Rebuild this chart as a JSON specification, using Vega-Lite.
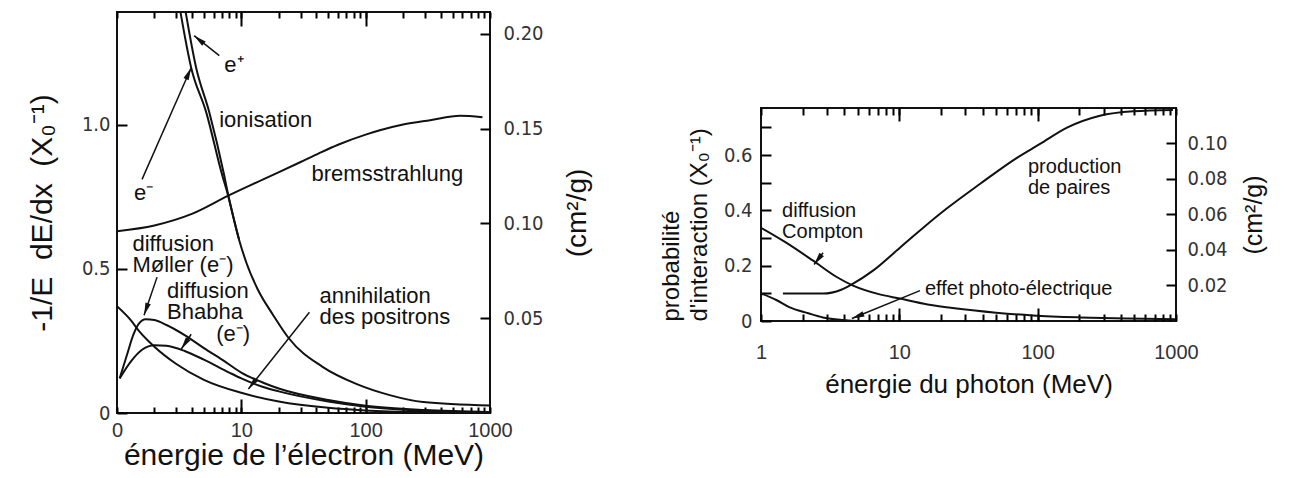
{
  "$schema": "https://vega.github.io/schema/vega-lite/v6.json",
  "background": "white",
  "padding": {"left": 26, "top": 10, "right": 5, "bottom": 0},
  "config": {"view": {"stroke": "#111", "strokeWidth": 2}, "axis": {"minExtent": 0, "ticks": true, "tickOpacity": 1, "zindex": 1}},
  "datasets": {
    "lc": [
      {"s": "brems", "E": 1, "v": 0.63}, {"s": "brems", "E": 2, "v": 0.65}, {"s": "brems", "E": 4, "v": 0.69}, {"s": "brems", "E": 8, "v": 0.755}, {"s": "brems", "E": 15, "v": 0.81}, {"s": "brems", "E": 30, "v": 0.87}, {"s": "brems", "E": 42, "v": 0.9}, {"s": "brems", "E": 60, "v": 0.93}, {"s": "brems", "E": 100, "v": 0.965}, {"s": "brems", "E": 130, "v": 0.98}, {"s": "brems", "E": 200, "v": 1.0}, {"s": "brems", "E": 330, "v": 1.015}, {"s": "brems", "E": 575, "v": 1.03}, {"s": "brems", "E": 870, "v": 1.025},
      {"s": "ion_em", "E": 3.15, "v": 1.42}, {"s": "ion_em", "E": 3.95, "v": 1.197}, {"s": "ion_em", "E": 5.22, "v": 1.042}, {"s": "ion_em", "E": 7.02, "v": 0.824}, {"s": "ion_em", "E": 7.7, "v": 0.765}, {"s": "ion_em", "E": 9.6, "v": 0.6}, {"s": "ion_em", "E": 11, "v": 0.52}, {"s": "ion_em", "E": 13.5, "v": 0.43}, {"s": "ion_em", "E": 18, "v": 0.34}, {"s": "ion_em", "E": 24, "v": 0.26}, {"s": "ion_em", "E": 45, "v": 0.16}, {"s": "ion_em", "E": 85, "v": 0.1}, {"s": "ion_em", "E": 156, "v": 0.062}, {"s": "ion_em", "E": 290, "v": 0.038}, {"s": "ion_em", "E": 1000, "v": 0.026},
      {"s": "ion_ep", "E": 3.47, "v": 1.42}, {"s": "ion_ep", "E": 4.33, "v": 1.197}, {"s": "ion_ep", "E": 5.53, "v": 1.042}, {"s": "ion_ep", "E": 7.28, "v": 0.824}, {"s": "ion_ep", "E": 7.85, "v": 0.755}, {"s": "ion_ep", "E": 9.6, "v": 0.6},
      {"s": "moller", "E": 1.05, "v": 0.12}, {"s": "moller", "E": 1.2, "v": 0.2}, {"s": "moller", "E": 1.35, "v": 0.27}, {"s": "moller", "E": 1.5, "v": 0.31}, {"s": "moller", "E": 1.7, "v": 0.325}, {"s": "moller", "E": 2.0, "v": 0.322}, {"s": "moller", "E": 2.5, "v": 0.305}, {"s": "moller", "E": 3.5, "v": 0.27}, {"s": "moller", "E": 5, "v": 0.225}, {"s": "moller", "E": 7, "v": 0.185}, {"s": "moller", "E": 10, "v": 0.14}, {"s": "moller", "E": 15, "v": 0.105}, {"s": "moller", "E": 20, "v": 0.085}, {"s": "moller", "E": 50, "v": 0.045}, {"s": "moller", "E": 100, "v": 0.025}, {"s": "moller", "E": 300, "v": 0.01}, {"s": "moller", "E": 1000, "v": 0.003},
      {"s": "bhabha", "E": 1.05, "v": 0.12}, {"s": "bhabha", "E": 1.3, "v": 0.18}, {"s": "bhabha", "E": 1.6, "v": 0.22}, {"s": "bhabha", "E": 2.0, "v": 0.235}, {"s": "bhabha", "E": 2.5, "v": 0.233}, {"s": "bhabha", "E": 3.5, "v": 0.215}, {"s": "bhabha", "E": 5, "v": 0.185}, {"s": "bhabha", "E": 8, "v": 0.14}, {"s": "bhabha", "E": 10, "v": 0.12}, {"s": "bhabha", "E": 15, "v": 0.09}, {"s": "bhabha", "E": 20, "v": 0.075}, {"s": "bhabha", "E": 50, "v": 0.04}, {"s": "bhabha", "E": 100, "v": 0.022}, {"s": "bhabha", "E": 300, "v": 0.008}, {"s": "bhabha", "E": 1000, "v": 0.002},
      {"s": "annih", "E": 1, "v": 0.37}, {"s": "annih", "E": 1.3, "v": 0.32}, {"s": "annih", "E": 1.5, "v": 0.285}, {"s": "annih", "E": 2, "v": 0.23}, {"s": "annih", "E": 3, "v": 0.17}, {"s": "annih", "E": 5, "v": 0.115}, {"s": "annih", "E": 10, "v": 0.07}, {"s": "annih", "E": 20, "v": 0.04}, {"s": "annih", "E": 50, "v": 0.018}, {"s": "annih", "E": 100, "v": 0.009}, {"s": "annih", "E": 300, "v": 0.003}, {"s": "annih", "E": 1000, "v": 0.001}
    ],
    "lt": [
      {"t": "e⁺", "E": 7.29, "v": 1.208},
      {"t": "e⁻", "E": 1.37, "v": 0.761},
      {"t": "ionisation", "E": 6.64, "v": 1.014},
      {"t": "bremsstrahlung", "E": 36.7, "v": 0.827},
      {"t": "diffusion\nMøller (e⁻)", "E": 1.33, "v": 0.585},
      {"t": "diffusion\nBhabha", "E": 2.53, "v": 0.422},
      {"t": "(e⁻)", "E": 6.28, "v": 0.275},
      {"t": "annihilation\ndes positrons", "E": 42.5, "v": 0.405}
    ],
    "la": [
      {"id": "ep", "E": 6.65, "v": 1.239, "E2": 4.17, "v2": 1.308},
      {"id": "em", "E": 1.59, "v": 0.81, "E2": 3.95, "v2": 1.197},
      {"id": "mo", "E": 2.1, "v": 0.471, "E2": 1.65, "v2": 0.339},
      {"id": "bh", "E": 3.95, "v": 0.273, "E2": 3.28, "v2": 0.221},
      {"id": "an", "E": 35.3, "v": 0.349, "E2": 11.4, "v2": 0.083}
    ],
    "lax": [{"k": 0.05}, {"k": 0.2}],
    "rc": [
      {"s": "compton", "E": 1.0, "p": 0.337}, {"s": "compton", "E": 1.5, "p": 0.285}, {"s": "compton", "E": 2.38, "p": 0.218}, {"s": "compton", "E": 3.5, "p": 0.16}, {"s": "compton", "E": 4.63, "p": 0.128}, {"s": "compton", "E": 7, "p": 0.098}, {"s": "compton", "E": 10.1, "p": 0.081}, {"s": "compton", "E": 16, "p": 0.06}, {"s": "compton", "E": 26, "p": 0.045}, {"s": "compton", "E": 50, "p": 0.03}, {"s": "compton", "E": 92, "p": 0.02}, {"s": "compton", "E": 200, "p": 0.013}, {"s": "compton", "E": 445, "p": 0.009}, {"s": "compton", "E": 1000, "p": 0.006},
      {"s": "paires", "E": 1.44, "p": 0.099}, {"s": "paires", "E": 2.81, "p": 0.099}, {"s": "paires", "E": 3.8, "p": 0.113}, {"s": "paires", "E": 4.63, "p": 0.135}, {"s": "paires", "E": 6.45, "p": 0.182}, {"s": "paires", "E": 10.1, "p": 0.265}, {"s": "paires", "E": 19.7, "p": 0.388}, {"s": "paires", "E": 38.4, "p": 0.496}, {"s": "paires", "E": 70.8, "p": 0.59}, {"s": "paires", "E": 104, "p": 0.64}, {"s": "paires", "E": 163, "p": 0.699}, {"s": "paires", "E": 282, "p": 0.742}, {"s": "paires", "E": 492, "p": 0.758}, {"s": "paires", "E": 950, "p": 0.763},
      {"s": "photo", "E": 1.0, "p": 0.1}, {"s": "photo", "E": 1.3, "p": 0.075}, {"s": "photo", "E": 1.6, "p": 0.05}, {"s": "photo", "E": 2.2, "p": 0.028}, {"s": "photo", "E": 2.8, "p": 0.013}, {"s": "photo", "E": 3.6, "p": 0.005}, {"s": "photo", "E": 4.5, "p": 0.001}, {"s": "photo", "E": 6, "p": 0.0}
    ],
    "rt": [
      {"t": "diffusion\nCompton", "E": 1.42, "p": 0.399},
      {"t": "production\nde paires", "E": 85.1, "p": 0.558},
      {"t": "effet photo-électrique", "E": 15.3, "p": 0.114}
    ],
    "ra": [
      {"id": "co", "E": 2.81, "p": 0.247, "E2": 2.42, "p2": 0.204},
      {"id": "ph", "E": 14.1, "p": 0.11, "E2": 4.54, "p2": 0.009}
    ],
    "rax": [{"k": 0.02}, {"k": 0.1}]
  },
  "hconcat": [
    {
      "width": 373,
      "height": 401,
      "resolve": {"scale": {"y": "independent"}, "axis": {"x": "independent", "y": "independent"}},
      "layer": [
        {
          "data": {"name": "lc"},
          "mark": {"type": "line", "color": "#111", "strokeWidth": 2, "interpolate": "monotone", "clip": true},
          "encoding": {
            "x": {"field": "E", "type": "quantitative", "scale": {"type": "log", "domain": [1, 1000]},
              "axis": {"orient": "bottom", "values": [1,2,3,4,5,6,7,8,9,10,20,30,40,50,60,70,80,90,100,200,300,400,500,600,700,800,900,1000],
                "ticks": true, "tickSize": 6, "offset": -6, "tickColor": "#000", "tickWidth": 2, "domain": false, "grid": false, "labelFlush": false, "labelOverlap": false,
                "labelExpr": "datum.value == 1 ? '0' : datum.value == 10 ? '10' : datum.value == 100 ? '100' : datum.value == 1000 ? '1000' : ''",
                "labelFont": "Liberation Sans", "labelFontSize": 20, "labelColor": "#333", "labelPadding": 7,
                "title": "énergie de l’électron (MeV)", "titleFont": "Liberation Sans", "titleFontSize": 30, "titleFontWeight": "normal", "titleColor": "#111", "titlePadding": 0}},
            "y": {"field": "v", "type": "quantitative", "scale": {"domain": [0, 1.39], "nice": false},
              "axis": {"orient": "left", "values": [0, 0.5, 1.0], "ticks": true, "tickSize": 10, "offset": -10, "tickColor": "#000", "tickWidth": 2, "domain": false, "grid": false,
                "labelExpr": "datum.value == 0 ? '0' : format(datum.value, '.1f')",
                "labelFont": "DejaVu Sans Condensed, Liberation Sans", "labelFontSize": 20, "labelColor": "#333", "labelPadding": 7,
                "title": "-1/E\u00a0\u00a0dE/dx\u00a0\u00a0(X₀⁻¹)", "titleFont": "Liberation Sans", "titleFontSize": 30, "titleFontWeight": "normal", "titleColor": "#111", "titlePadding": 24}},
            "detail": {"field": "s"}
          }
        },
        {
          "data": {"name": "lc"},
          "mark": {"type": "point", "opacity": 0, "clip": true},
          "encoding": {
            "x": {"field": "E", "type": "quantitative", "scale": {"type": "log", "domain": [1, 1000]},
              "axis": {"orient": "bottom", "values": [10, 100], "ticks": true, "tickSize": 14, "offset": -14, "tickColor": "#000", "tickWidth": 2, "domain": false, "grid": false, "labels": false, "title": null}},
            "y": {"field": "v", "type": "quantitative", "scale": {"domain": [0, 1.39], "nice": false}, "axis": null}
          }
        },
        {
          "data": {"name": "lc"},
          "mark": {"type": "point", "opacity": 0, "clip": true},
          "encoding": {
            "x": {"field": "E", "type": "quantitative", "scale": {"type": "log", "domain": [1, 1000]},
              "axis": {"orient": "top", "values": [1,2,3,4,5,6,7,8,9,10,20,30,40,50,60,70,80,90,100,200,300,400,500,600,700,800,900,1000],
                "ticks": true, "tickSize": 6, "offset": -6, "tickColor": "#000", "tickWidth": 2, "domain": false, "grid": false, "labels": false, "title": null}},
            "y": {"field": "v", "type": "quantitative", "scale": {"domain": [0, 1.39], "nice": false}, "axis": null}
          }
        },
        {
          "data": {"name": "lc"},
          "mark": {"type": "point", "opacity": 0, "clip": true},
          "encoding": {
            "x": {"field": "E", "type": "quantitative", "scale": {"type": "log", "domain": [1, 1000]},
              "axis": {"orient": "top", "values": [10, 100], "ticks": true, "tickSize": 14, "offset": -14, "tickColor": "#000", "tickWidth": 2, "domain": false, "grid": false, "labels": false, "title": null}},
            "y": {"field": "v", "type": "quantitative", "scale": {"domain": [0, 1.39], "nice": false}, "axis": null}
          }
        },
        {
          "data": {"name": "lax"},
          "mark": {"type": "point", "opacity": 0, "clip": true},
          "encoding": {
            "y": {"field": "k", "type": "quantitative", "scale": {"domain": [0, 0.2116], "nice": false},
              "axis": {"orient": "right", "values": [0.05, 0.1, 0.15, 0.2], "format": ".2f", "ticks": true, "tickSize": 10, "offset": -10, "tickColor": "#000", "tickWidth": 2, "domain": false, "grid": false,
                "labelFont": "DejaVu Sans Condensed, Liberation Sans", "labelFontSize": 20, "labelColor": "#333", "labelPadding": 13,
                "title": "(cm²/g)", "titleAngle": 270, "titleBaseline": "top", "titleFont": "Liberation Sans", "titleFontSize": 28, "titleFontWeight": "normal", "titleColor": "#111", "titlePadding": 20}}
          }
        },
        {
          "data": {"name": "lt"},
          "mark": {"type": "text", "align": "left", "baseline": "middle", "lineBreak": "\n", "lineHeight": 21, "font": "Liberation Sans", "fontSize": 22, "color": "#111"},
          "encoding": {
            "x": {"field": "E", "type": "quantitative", "scale": {"type": "log", "domain": [1, 1000]}, "axis": null},
            "y": {"field": "v", "type": "quantitative", "scale": {"domain": [0, 1.39], "nice": false}, "axis": null},
            "text": {"field": "t"}
          }
        },
        {
          "data": {"name": "la"},
          "mark": {"type": "rule", "color": "#111", "strokeWidth": 1.5},
          "encoding": {
            "x": {"field": "E", "type": "quantitative", "scale": {"type": "log", "domain": [1, 1000]}, "axis": null},
            "y": {"field": "v", "type": "quantitative", "scale": {"domain": [0, 1.39], "nice": false}, "axis": null},
            "x2": {"field": "E2"},
            "y2": {"field": "v2"}
          }
        },
        {
          "data": {"name": "la"}, "transform": [{"filter": "datum.id == 'ep'"}],
          "mark": {"type": "point", "shape": "M0,0L-0.4,1.8L0.4,1.8Z", "filled": true, "color": "#111", "opacity": 1, "size": 196, "angle": -51},
          "encoding": {
            "x": {"field": "E2", "type": "quantitative", "scale": {"type": "log", "domain": [1, 1000]}, "axis": null},
            "y": {"field": "v2", "type": "quantitative", "scale": {"domain": [0, 1.39], "nice": false}, "axis": null}
          }
        },
        {
          "data": {"name": "la"}, "transform": [{"filter": "datum.id == 'em'"}],
          "mark": {"type": "point", "shape": "M0,0L-0.4,1.8L0.4,1.8Z", "filled": true, "color": "#111", "opacity": 1, "size": 196, "angle": 24},
          "encoding": {
            "x": {"field": "E2", "type": "quantitative", "scale": {"type": "log", "domain": [1, 1000]}, "axis": null},
            "y": {"field": "v2", "type": "quantitative", "scale": {"domain": [0, 1.39], "nice": false}, "axis": null}
          }
        },
        {
          "data": {"name": "la"}, "transform": [{"filter": "datum.id == 'mo'"}],
          "mark": {"type": "point", "shape": "M0,0L-0.4,1.8L0.4,1.8Z", "filled": true, "color": "#111", "opacity": 1, "size": 196, "angle": -161},
          "encoding": {
            "x": {"field": "E2", "type": "quantitative", "scale": {"type": "log", "domain": [1, 1000]}, "axis": null},
            "y": {"field": "v2", "type": "quantitative", "scale": {"domain": [0, 1.39], "nice": false}, "axis": null}
          }
        },
        {
          "data": {"name": "la"}, "transform": [{"filter": "datum.id == 'bh'"}],
          "mark": {"type": "point", "shape": "M0,0L-0.4,1.8L0.4,1.8Z", "filled": true, "color": "#111", "opacity": 1, "size": 196, "angle": -146},
          "encoding": {
            "x": {"field": "E2", "type": "quantitative", "scale": {"type": "log", "domain": [1, 1000]}, "axis": null},
            "y": {"field": "v2", "type": "quantitative", "scale": {"domain": [0, 1.39], "nice": false}, "axis": null}
          }
        },
        {
          "data": {"name": "la"}, "transform": [{"filter": "datum.id == 'an'"}],
          "mark": {"type": "point", "shape": "M0,0L-0.4,1.8L0.4,1.8Z", "filled": true, "color": "#111", "opacity": 1, "size": 196, "angle": -142},
          "encoding": {
            "x": {"field": "E2", "type": "quantitative", "scale": {"type": "log", "domain": [1, 1000]}, "axis": null},
            "y": {"field": "v2", "type": "quantitative", "scale": {"domain": [0, 1.39], "nice": false}, "axis": null}
          }
        }
      ]
    },
    {
      "spacing": 20,
      "vconcat": [
        {"width": 10, "height": 74, "data": {"values": []}, "mark": "point", "view": {"stroke": null}},
        {
          "width": 415,
          "height": 213,
          "resolve": {"scale": {"y": "independent"}, "axis": {"x": "independent", "y": "independent"}},
          "layer": [
            {
              "data": {"name": "rc"},
              "mark": {"type": "line", "color": "#111", "strokeWidth": 2, "interpolate": "monotone", "clip": true},
              "encoding": {
                "x": {"field": "E", "type": "quantitative", "scale": {"type": "log", "domain": [1, 1000]},
                  "axis": {"orient": "bottom", "values": [1,2,3,4,5,6,7,8,9,10,20,30,40,50,60,70,80,90,100,200,300,400,500,600,700,800,900,1000],
                    "ticks": true, "tickSize": 7, "offset": -7, "tickColor": "#000", "tickWidth": 2, "domain": false, "grid": false, "labelFlush": false, "labelOverlap": false,
                    "labelExpr": "datum.value == 1 ? '1' : datum.value == 10 ? '10' : datum.value == 100 ? '100' : datum.value == 1000 ? '1000' : ''",
                    "labelFont": "Liberation Sans", "labelFontSize": 20, "labelColor": "#333", "labelPadding": 21,
                    "title": "énergie du photon (MeV)", "titleFont": "Liberation Sans", "titleFontSize": 26, "titleFontWeight": "normal", "titleColor": "#111", "titlePadding": 9}},
                "y": {"field": "p", "type": "quantitative", "scale": {"domain": [0, 0.77], "nice": false},
                  "axis": {"orient": "left", "values": [0, 0.1, 0.2, 0.3, 0.4, 0.5, 0.6, 0.7], "ticks": true, "tickSize": 10, "offset": -10, "tickColor": "#000", "tickWidth": 2, "domain": false, "grid": false,
                    "labelExpr": "datum.value == 0 ? '0' : (datum.value == 0.2 || datum.value == 0.4 || datum.value == 0.6) ? format(datum.value, '.1f') : ''",
                    "labelFont": "DejaVu Sans Condensed, Liberation Sans", "labelFontSize": 20, "labelColor": "#333", "labelPadding": 9,
                    "title": ["probabilité", "d'interaction (X₀⁻¹)"], "titleAnchor": "start", "titleFont": "Liberation Sans", "titleFontSize": 24, "titleFontWeight": "normal", "titleColor": "#111", "titlePadding": 12, "titleLineHeight": 28}},
                "detail": {"field": "s"}
              }
            },
            {
              "data": {"name": "rc"},
              "mark": {"type": "point", "opacity": 0, "clip": true},
              "encoding": {
                "x": {"field": "E", "type": "quantitative", "scale": {"type": "log", "domain": [1, 1000]},
                  "axis": {"orient": "bottom", "values": [10, 100], "ticks": true, "tickSize": 13, "offset": -13, "tickColor": "#000", "tickWidth": 2, "domain": false, "grid": false, "labels": false, "title": null}},
                "y": {"field": "p", "type": "quantitative", "scale": {"domain": [0, 0.77], "nice": false}, "axis": null}
              }
            },
            {
              "data": {"name": "rc"},
              "mark": {"type": "point", "opacity": 0, "clip": true},
              "encoding": {
                "x": {"field": "E", "type": "quantitative", "scale": {"type": "log", "domain": [1, 1000]},
                  "axis": {"orient": "top", "values": [1,2,3,4,5,6,7,8,9,10,20,30,40,50,60,70,80,90,100,200,300,400,500,600,700,800,900,1000],
                    "ticks": true, "tickSize": 7, "offset": -7, "tickColor": "#000", "tickWidth": 2, "domain": false, "grid": false, "labels": false, "title": null}},
                "y": {"field": "p", "type": "quantitative", "scale": {"domain": [0, 0.77], "nice": false}, "axis": null}
              }
            },
            {
              "data": {"name": "rc"},
              "mark": {"type": "point", "opacity": 0, "clip": true},
              "encoding": {
                "x": {"field": "E", "type": "quantitative", "scale": {"type": "log", "domain": [1, 1000]},
                  "axis": {"orient": "top", "values": [10, 100], "ticks": true, "tickSize": 13, "offset": -13, "tickColor": "#000", "tickWidth": 2, "domain": false, "grid": false, "labels": false, "title": null}},
                "y": {"field": "p", "type": "quantitative", "scale": {"domain": [0, 0.77], "nice": false}, "axis": null}
              }
            },
            {
              "data": {"name": "rax"},
              "mark": {"type": "point", "opacity": 0, "clip": true},
              "encoding": {
                "y": {"field": "k", "type": "quantitative", "scale": {"domain": [0, 0.1197], "nice": false},
                  "axis": {"orient": "right", "values": [0.02, 0.04, 0.06, 0.08, 0.1], "format": ".2f", "ticks": true, "tickSize": 10, "offset": -10, "tickColor": "#000", "tickWidth": 2, "domain": false, "grid": false,
                    "labelFont": "DejaVu Sans Condensed, Liberation Sans", "labelFontSize": 20, "labelColor": "#333", "labelPadding": 11,
                    "title": "(cm²/g)", "titleAngle": 270, "titleBaseline": "top", "titleFont": "Liberation Sans", "titleFontSize": 25, "titleFontWeight": "normal", "titleColor": "#111", "titlePadding": 14}}
              }
            },
            {
              "data": {"name": "rt"},
              "mark": {"type": "text", "align": "left", "baseline": "middle", "lineBreak": "\n", "lineHeight": 21, "font": "Liberation Sans", "fontSize": 20, "color": "#111"},
              "encoding": {
                "x": {"field": "E", "type": "quantitative", "scale": {"type": "log", "domain": [1, 1000]}, "axis": null},
                "y": {"field": "p", "type": "quantitative", "scale": {"domain": [0, 0.77], "nice": false}, "axis": null},
                "text": {"field": "t"}
              }
            },
            {
              "data": {"name": "ra"},
              "mark": {"type": "rule", "color": "#111", "strokeWidth": 1.5},
              "encoding": {
                "x": {"field": "E", "type": "quantitative", "scale": {"type": "log", "domain": [1, 1000]}, "axis": null},
                "y": {"field": "p", "type": "quantitative", "scale": {"domain": [0, 0.77], "nice": false}, "axis": null},
                "x2": {"field": "E2"},
                "y2": {"field": "p2"}
              }
            },
            {
              "data": {"name": "ra"}, "transform": [{"filter": "datum.id == 'co'"}],
              "mark": {"type": "point", "shape": "M0,0L-0.4,1.8L0.4,1.8Z", "filled": true, "color": "#111", "opacity": 1, "size": 196, "angle": -143},
              "encoding": {
                "x": {"field": "E2", "type": "quantitative", "scale": {"type": "log", "domain": [1, 1000]}, "axis": null},
                "y": {"field": "p2", "type": "quantitative", "scale": {"domain": [0, 0.77], "nice": false}, "axis": null}
              }
            },
            {
              "data": {"name": "ra"}, "transform": [{"filter": "datum.id == 'ph'"}],
              "mark": {"type": "point", "shape": "M0,0L-0.4,1.8L0.4,1.8Z", "filled": true, "color": "#111", "opacity": 1, "size": 196, "angle": -112},
              "encoding": {
                "x": {"field": "E2", "type": "quantitative", "scale": {"type": "log", "domain": [1, 1000]}, "axis": null},
                "y": {"field": "p2", "type": "quantitative", "scale": {"domain": [0, 0.77], "nice": false}, "axis": null}
              }
            }
          ]
        }
      ]
    }
  ],
  "spacing": 65
}
